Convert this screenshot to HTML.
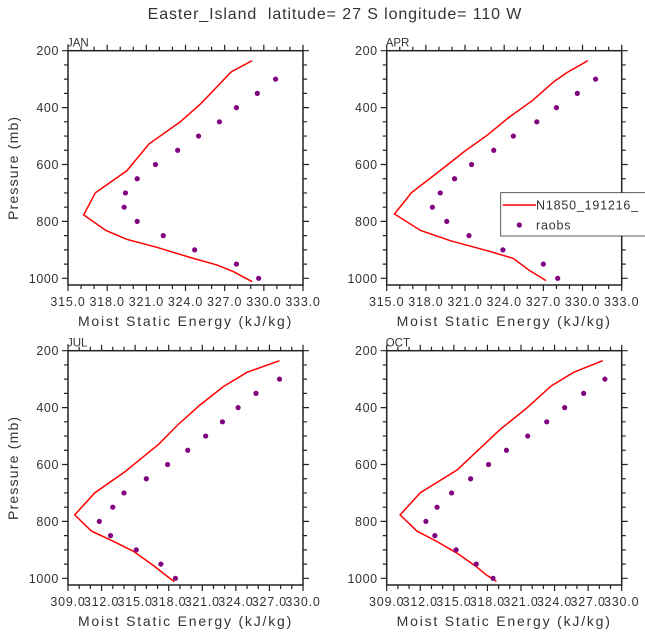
<!DOCTYPE html>
<html><head><meta charset="utf-8"><style>
body{margin:0;background:#fff}
svg{display:block;font-family:"Liberation Sans","DejaVu Sans",sans-serif}
</style></head><body>
<svg id="c" width="645" height="635" viewBox="0 0 645 635">
<text x="335" y="19" text-anchor="middle" font-size="16" fill="#333" letter-spacing="0.9" style="white-space:pre">Easter_Island  latitude= 27 S longitude= 110 W</text>
</svg>
<script>
const panelNames = ["JAN","APR","JUL","OCT"];
const obsP = [300,350,400,450,500,550,600,650,700,750,800,850,900,950,1000];
const janModelX = [329.1,327.5,325.2,323.6,321.2,319.5,317.1,316.2,317.9,319.5,321.8,324.6,326.4,327.7,329.1];
const janModelP = [235,274,385,450,528,622,699,777,832,863,891,930,953,977,1012];
const janObs = [330.9,329.5,327.9,326.6,325.0,323.4,321.7,320.3,319.4,319.3,320.3,322.3,324.7,327.9,329.6];
const aprModelX = [330.4,328.8,327.8,326.2,324.4,322.7,320.9,319.3,316.9,315.6,317.6,319.9,322.7,324.7,325.9,327.2];
const aprModelP = [235,277,309,374,433,497,556,614,699,774,832,868,903,930,971,1008];
const aprObs = [331.0,329.6,328.0,326.5,324.7,323.2,321.5,320.2,319.1,318.5,319.6,321.3,323.9,327.0,328.1];
const julModelX = [327.9,325.0,322.9,320.8,318.8,317.1,314.1,311.4,309.6,311.1,313.1,314.9,316.7,317.6,318.5];
const julModelP = [235,276,326,391,461,529,625,699,777,834,871,906,957,985,1012];
const julObs = [327.9,325.8,324.2,322.8,321.3,319.7,317.9,316.0,314.0,313.0,311.8,312.8,315.1,317.3,318.6];
const octModelX = [328.3,325.7,323.7,321.5,319.1,315.3,312.0,310.2,311.7,313.5,315.3,317.0,317.9,318.8];
const octModelP = [235,276,324,402,478,619,699,777,834,871,912,959,988,1011];
const octObs = [328.5,326.6,324.9,323.3,321.6,319.7,318.1,316.5,314.8,313.5,312.5,313.3,315.2,317.0,318.5];
const topXTicks = [315,318,321,324,327,330,333];
const botXTicks = [309,312,315,318,321,324,327,330];
const yTicks = [200,400,600,800,1000];

const NS="http://www.w3.org/2000/svg";
const svg=document.getElementById('c');
function mk(tag,attrs,parent){const e=document.createElementNS(NS,tag);for(const k in attrs)e.setAttribute(k,attrs[k]);(parent||svg).appendChild(e);return e;}

const panels=[
 {name:"JAN",x0:68,y0:50.7,xmin:315,xmax:333,ticks:topXTicks,mx:janModelX,mp:janModelP,obs:janObs,ylab:true},
 {name:"APR",x0:386.7,y0:50.7,xmin:315,xmax:333,ticks:topXTicks,mx:aprModelX,mp:aprModelP,obs:aprObs,ylab:false},
 {name:"JUL",x0:68,y0:350.7,xmin:309,xmax:330,ticks:botXTicks,mx:julModelX,mp:julModelP,obs:julObs,ylab:true},
 {name:"OCT",x0:386.7,y0:350.7,xmin:309,xmax:330,ticks:botXTicks,mx:octModelX,mp:octModelP,obs:octObs,ylab:false}
];
const W=235,H=234.3,PMAX=1023.5;
panels.forEach(p=>{
 const g=mk('g',{});
 
 
 const sx=v=>p.x0+(v-p.xmin)/(p.xmax-p.xmin)*W;
 const sy=v=>p.y0+(v-200)/(PMAX-200)*H;
 const pts=p.mx.map((v,i)=>sx(v).toFixed(1)+','+sy(p.mp[i]).toFixed(1)).join(' ');
 const pl=mk('polyline',{points:pts,fill:'none',stroke:'#ff0000','stroke-width':1.5},g);
 
 
 p.obs.forEach((v,i)=>{
  const c=mk('circle',{cx:sx(v),cy:sy(obsP[i]),r:2.6,fill:'#800080'},g);
  
  
 });
 const r=mk('rect',{x:p.x0,y:p.y0,width:W,height:H,fill:'none',stroke:'#222','stroke-width':1.5},g);
 
 
 let d='';
 for(let v=p.xmin;v<=p.xmax+0.001;v+=1){
  const x=sx(v); const major=((v-p.xmin)%3)===0; const L=major?6:4;
  d+=`M${x},${p.y0+H}v${L}M${x},${p.y0}v${-L}`;
 }
 for(let v=200;v<=1000;v+=50){
  const y=sy(v); const major=(v%200)===0; const L=major?6:4;
  d+=`M${p.x0},${y}h${-L}M${p.x0+W},${y}h${L}`;
 }
 mk('path',{d:d,stroke:'#222','stroke-width':1.2,fill:'none'},g);
 p.ticks.forEach(v=>{
  const t=mk('text',{x:sx(v),y:p.y0+H+21,'text-anchor':'middle','font-size':12.5,'letter-spacing':0.8,fill:'#333'},g);
  t.textContent=v.toFixed(1);
  
  
 });
 yTicks.forEach(v=>{
  const t=mk('text',{x:p.x0-9,y:sy(v)+4.5,'text-anchor':'end','font-size':12.5,'letter-spacing':0.6,fill:'#333'},g);
  t.textContent=v;
  
  
 });
 const pn=mk('text',{x:p.x0-1,y:p.y0-4,'font-size':11.5,fill:'#333'},g);
 pn.textContent=p.name;
 
 
 const xt=mk('text',{x:p.x0+W/2,y:p.y0+H+41,'text-anchor':'middle','font-size':14,'letter-spacing':1.8,fill:'#333'},g);
 xt.textContent='Moist Static Energy (kJ/kg)';
 
 
 if(p.ylab){
  const cy=p.y0+H/2;
  const yt=mk('text',{x:0,y:0,transform:`translate(18,${cy}) rotate(-90)`,'text-anchor':'middle','font-size':14,'letter-spacing':1.2,fill:'#333'},g);
  yt.textContent='Pressure (mb)';
  
  
 }
});
const lg=mk('g',{});


mk('rect',{x:500.7,y:192.7,width:160,height:43.3,fill:'#fff',stroke:'#333','stroke-width':0.8},lg);
mk('line',{x1:502.7,y1:205,x2:536,y2:205,stroke:'#ff0000','stroke-width':1.5},lg);
const l1=mk('text',{x:536,y:209.5,'font-size':12.5,'letter-spacing':0.8,fill:'#333'},lg);
l1.textContent='N1850_191216_';


mk('circle',{cx:519.3,cy:225,r:2.6,fill:'#800080'},lg);
const l2=mk('text',{x:536,y:229.5,'font-size':12.5,'letter-spacing':0.8,fill:'#333'},lg);
l2.textContent='raobs';


</script>
</body></html>
